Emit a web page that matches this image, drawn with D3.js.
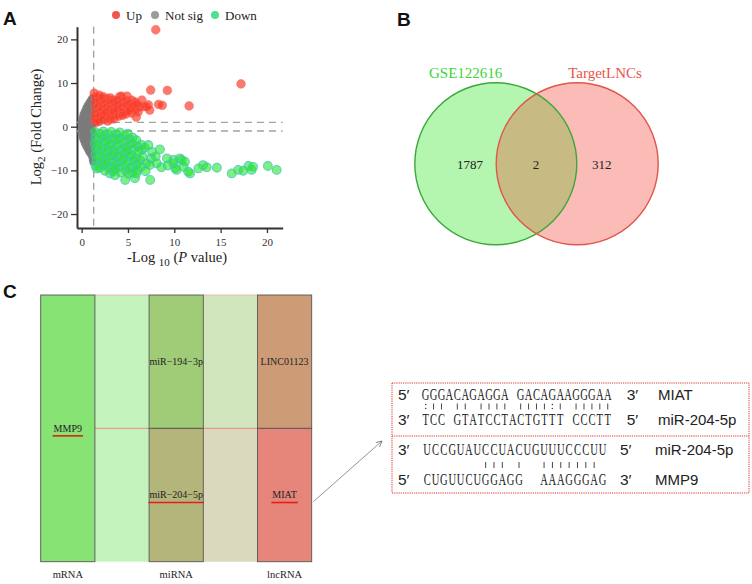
<!DOCTYPE html>
<html>
<head>
<meta charset="utf-8">
<script src="https://cdn.jsdelivr.net/npm/d3@7"></script>
<style>
  body { margin: 0; background: #fff; }
  text { font-family: "Liberation Serif", "DejaVu Serif", serif; fill: #222; }
  .sans { font-family: "Liberation Sans", Arial, sans-serif; }
</style>
</head>
<body>
<svg id="fig"></svg>
<script>
// ---- A: volcano, points are [-log10 p, log2 fold change]
const nsPts = [
  [0.0,0.5],[0.0,-0.5],[0.0,-1.5],[0.0,1.2],[0.1,2.0],[0.1,-2.3],[0.1,0.0],
  [0.2,2.8],[0.2,-3.0],[0.2,1.5],[0.2,-1.0],[0.35,3.5],[0.35,-3.8],[0.35,2.2],[0.35,-2.0],[0.35,0.6],
  [0.5,4.2],[0.5,-4.4],[0.5,3.0],[0.5,-3.0],[0.5,1.0],[0.5,-1.2],
  [0.65,4.8],[0.65,-5.0],[0.65,3.6],[0.65,-3.6],[0.65,2.0],[0.65,-2.2],[0.65,0.3],
  [0.8,5.3],[0.8,-5.6],[0.8,4.2],[0.8,-4.4],[0.8,2.8],[0.8,-1.0],[0.8,1.0],
  [0.95,5.8],[0.95,-6.1],[0.95,4.6],[0.95,-5.0],[0.95,3.2],[0.95,-3.0],[0.95,0.0],
  [1.1,6.3],[1.1,-6.6],[1.1,5.0],[1.1,-5.4],[1.1,3.6],[1.1,1.5],[1.1,-2.0],[1.1,-0.8],
  [1.2,6.6],[1.2,-7.4],[1.2,-6.0],[1.2,4.4],[1.2,-4.0],[1.2,2.4],[1.2,0.6],
  [1.25,-8.0],[1.25,5.6],[1.25,-1.5]
];
const upPts = [
  [8.0,22.2],[17.2,9.8],[7.45,8.4],[9.25,8.3],[11.6,4.75],[7.2,5.0],[8.3,5.1],[8.7,4.9],
  [5.9,2.2],[4.1,6.9],[4.9,7.0],[6.5,6.1],[6.65,4.6],[7.0,4.6],[7.35,3.8],[1.36,7.7],
  [2.0,6.5],[2.7,6.5],[3.4,6.1],[4.3,7.0],[5.4,6.1],[5.75,5.7],[6.3,4.6],[5.4,3.1],
  [4.9,3.8],[4.1,3.1],[3.6,2.7],[2.7,2.3],[2.0,1.9],[1.6,1.5],
  [1.5,6.8],[1.45,5.5],[1.55,4.2],[1.5,3.0],[1.45,2.0],[1.55,1.0],
  [1.9,7.2],[1.95,5.8],[1.85,4.6],[1.9,3.4],[2.0,2.5],[1.9,1.2],
  [2.3,6.9],[2.35,5.2],[2.25,4.0],[2.4,2.9],[2.3,1.6],
  [2.7,5.6],[2.75,4.5],[2.65,3.3],[2.8,1.3],
  [3.1,6.6],[3.15,5.3],[3.05,4.1],[3.2,2.8],[3.1,1.7],
  [3.5,5.7],[3.55,4.5],[3.45,3.5],[3.5,1.8],
  [3.9,6.1],[3.95,5.0],[3.85,4.0],[4.0,2.4],
  [4.4,5.6],[4.35,4.4],[4.45,3.4],[4.4,2.6],
  [4.8,6.0],[4.85,5.0],[4.75,2.9],
  [5.2,5.3],[5.25,4.3],[5.15,3.6],
  [5.6,4.8],[5.8,3.9],[6.0,5.2],[6.1,3.4]
];
const downPts = [
  [1.45,-1.2],[1.5,-2.6],[1.42,-3.9],[1.55,-5.1],[1.48,-6.4],[1.6,-7.7],[1.5,-9.0],[1.65,-9.6],
  [1.9,-1.6],[1.95,-2.9],[1.85,-4.3],[2.0,-5.5],[1.9,-6.9],[2.05,-8.3],[1.95,-9.4],
  [2.35,-1.1],[2.3,-2.4],[2.4,-3.7],[2.25,-4.9],[2.45,-6.1],[2.3,-7.5],[2.4,-8.8],[2.5,-10.1],
  [2.8,-1.7],[2.75,-3.1],[2.9,-4.4],[2.8,-5.7],[2.85,-7.0],[2.7,-8.3],[2.9,-9.4],[3.05,-10.7],
  [3.2,-1.2],[3.3,-2.5],[3.15,-3.9],[3.25,-5.2],[3.35,-6.6],[3.2,-7.8],[3.3,-9.1],[3.4,-10.2],
  [3.7,-1.8],[3.65,-3.0],[3.75,-4.5],[3.6,-5.8],[3.8,-7.0],[3.7,-8.5],[3.6,-9.7],[3.6,-11.1],
  [4.1,-1.3],[4.15,-2.7],[4.05,-4.0],[4.2,-5.3],[4.1,-6.7],[4.25,-8.0],[4.0,-9.3],[4.2,-10.5],
  [4.6,-2.0],[4.55,-3.4],[4.7,-4.8],[4.6,-6.0],[4.5,-7.4],[4.65,-8.7],[4.75,-10.0],[4.7,-12.2],
  [5.0,-1.6],[5.1,-2.9],[5.05,-4.2],[4.95,-5.5],[5.1,-6.8],[5.0,-8.1],[5.15,-9.5],[5.05,-10.8],
  [5.5,-2.5],[5.45,-3.8],[5.55,-5.1],[5.4,-6.5],[5.6,-7.8],[5.5,-9.2],[5.45,-10.5],[5.75,-11.8],
  [5.9,-3.1],[6.0,-4.5],[5.85,-7.2],[5.95,-8.6],[6.05,-9.9],[5.9,-10.7],
  [6.4,-4.1],[6.5,-5.3],[6.3,-7.7],[6.45,-9.2],
  [6.1,-5.7],[6.6,-6.9],[6.8,-4.8],[7.2,-4.2],[7.6,-5.8],[7.5,-7.3],[8.0,-6.8],[7.0,-8.4],
  [7.35,-8.8],[8.1,-8.4],[6.9,-10.2],[7.4,-12.2],[8.45,-5.2],[8.6,-9.3],[9.2,-7.25],[9.3,-8.9],
  [9.9,-7.6],[9.9,-8.4],[10.6,-7.25],[10.8,-7.6],[10.1,-9.5],[10.25,-9.9],[11.0,-9.2],[11.15,-8.0],
  [11.5,-10.3],[11.7,-10.7],[12.6,-9.55],[13.1,-8.8],[13.5,-9.3],[14.6,-9.4],[16.2,-10.7],[16.9,-9.9],
  [17.45,-10.1],[18.0,-9.0],[18.35,-9.9],[18.5,-9.2],[20.1,-9.0],[21.05,-9.9]
];
const legendLabels = ["Up", "Not sig", "Down"];
const xTicks = [0, 5, 10, 15, 20];
const yTicks = [-20, -10, 0, 10, 20];
const pCut = 1.3;
const fcCut = 1;

// ---- B: venn
const vennSets = ["GSE122616", "TargetLNCs"];
const vennCounts = [1787, 2, 312];

// ---- C: ceRNA network
const stages = ["mRNA", "miRNA", "lncRNA"];
const stageNodes = [["MMP9"], ["miR\u2212194\u22123p", "miR\u2212204\u22125p"], ["LINC01123", "MIAT"]];
const hubNodes = ["MMP9", "miR\u2212204\u22125p", "MIAT"];
const linkColors = [["#c3f2bd", "#c3f2bd"], ["#d1e6bd", "#dad9bd"]];

// binding sites
const bindBlocks = [
  { top: ["5\u2032", "GGGACAGAGGA GACAGAAGGGAA", "3\u2032", "MIAT"],
    marks: ":|| || |||| ||||:| |||||",
    bot: ["3\u2032", "TCC GTATCCTACTGTTT CCCTT", "5\u2032", "miR-204-5p"] },
  { top: ["3\u2032", "UCCGUAUCCUACUGUUUCCCUU", "5\u2032", "miR-204-5p"],
    marks: "       ||| |  ||||||| ",
    bot: ["5\u2032", "CUGUUCUGGAGG  AAAGGGAG", "3\u2032", "MMP9"] }
];

const width = 752, height = 584;
const svg = d3.select("#fig").attr("width", width).attr("height", height);

// panel letters
svg.append("text").attr("class", "sans").attr("x", 3).attr("y", 25).attr("font-size", 19).attr("font-weight", "bold").style("fill", "#111").text("A");
svg.append("text").attr("class", "sans").attr("x", 397).attr("y", 26).attr("font-size", 19).attr("font-weight", "bold").style("fill", "#111").text("B");
svg.append("text").attr("class", "sans").attr("x", 3).attr("y", 298).attr("font-size", 19).attr("font-weight", "bold").style("fill", "#111").text("C");

// ================= A
const x = d3.scaleLinear([-0.5, 21.7], [77, 282.7]);
const y = d3.scaleLinear([-23.2, 22.9], [228, 26.7]);
const gA = svg.append("g");

gA.append("g")
  .attr("transform", "translate(0,228)")
  .call(d3.axisBottom(x).tickValues(xTicks).tickSize(5).tickSizeOuter(0))
  .call(g => g.select(".domain").attr("stroke", "#333").attr("stroke-width", 2))
  .call(g => g.selectAll(".tick line").attr("stroke", "#333").attr("stroke-width", 1.3))
  .call(g => g.selectAll(".tick text").attr("font-size", 11).attr("font-family", "Liberation Serif").style("fill", "#333").attr("dy", "0.9em"));

gA.append("g")
  .attr("transform", "translate(77,0)")
  .call(d3.axisLeft(y).tickValues(yTicks).tickSize(6).tickSizeOuter(0))
  .call(g => g.select(".domain").attr("stroke", "#333").attr("stroke-width", 2))
  .call(g => g.selectAll(".tick line").attr("stroke", "#333").attr("stroke-width", 1.3))
  .call(g => g.selectAll(".tick text").attr("font-size", 11).attr("font-family", "Liberation Serif").style("fill", "#333"));

// threshold lines
const dash = g => g.attr("stroke", "#a3a3a3").attr("stroke-width", 1.4).attr("stroke-dasharray", "7,5").attr("fill", "none");
gA.append("line").attr("x1", x(pCut)).attr("x2", x(pCut)).attr("y1", y.range()[1]).attr("y2", y.range()[0]).call(dash);
[fcCut, -fcCut].forEach(v =>
  gA.append("line").attr("x1", x(-0.5)).attr("x2", x(21.7)).attr("y1", y(v)).attr("y2", y(v)).call(dash));

gA.append("g").selectAll("circle").data(nsPts).join("circle")
  .attr("cx", d => x(d[0])).attr("cy", d => y(d[1])).attr("r", 4)
  .attr("fill", "#7b7b7b").attr("fill-opacity", 0.9);
gA.append("g").selectAll("circle").data(upPts).join("circle")
  .attr("cx", d => x(d[0])).attr("cy", d => y(d[1])).attr("r", 4.4)
  .attr("fill", "#fa3a28").attr("fill-opacity", 0.68)
  .attr("stroke", "#f26a5c").attr("stroke-opacity", 0.6).attr("stroke-width", 0.8);
gA.append("g").selectAll("circle").data(downPts).join("circle")
  .attr("cx", d => x(d[0])).attr("cy", d => y(d[1])).attr("r", 4.4)
  .attr("fill", "#28e628").attr("fill-opacity", 0.6)
  .attr("stroke", "#3fc4c0").attr("stroke-opacity", 0.75).attr("stroke-width", 1.1);

// legend
const legColors = ["#f2564a", "#9b9b9b", "#4ee08f"];
const legX = [116, 155, 215];
legendLabels.forEach((l, i) => {
  gA.append("circle").attr("cx", legX[i]).attr("cy", 15).attr("r", 4).attr("fill", legColors[i]);
  gA.append("text").attr("x", legX[i] + 10).attr("y", 19.5).attr("font-size", 13).text(l);
});

// axis titles
const xt = gA.append("text").attr("x", 177).attr("y", 262).attr("text-anchor", "middle").attr("font-size", 14.5);
xt.append("tspan").text("-Log ");
xt.append("tspan").attr("font-size", 11).attr("dy", 4).text("10");
xt.append("tspan").attr("dy", -4).text(" (");
xt.append("tspan").attr("font-style", "italic").text("P");
xt.append("tspan").text(" value)");

const yt = gA.append("text").attr("transform", "translate(41,127) rotate(-90)").attr("text-anchor", "middle").attr("font-size", 14.5);
yt.append("tspan").text("Log");
yt.append("tspan").attr("font-size", 11).attr("dy", 4).text("2");
yt.append("tspan").attr("dy", -4).text(" (Fold Change)");

// ================= B
const gB = svg.append("g");
const vc = [{ cx: 495.8, stroke: "#3aa83a", fill: "#b4f5b0", lab: "#3ad63a" },
            { cx: 577.2, stroke: "#e0554c", fill: "#fbbcb8", lab: "#e8544a" }];
const vy = 163.8, vr = 81;
gB.append("defs").append("clipPath").attr("id", "clipR")
  .append("circle").attr("cx", vc[1].cx).attr("cy", vy).attr("r", vr);
vc.forEach(c => gB.append("circle").attr("cx", c.cx).attr("cy", vy).attr("r", vr).attr("fill", c.fill));
gB.append("circle").attr("cx", vc[0].cx).attr("cy", vy).attr("r", vr).attr("fill", "#c7ba83").attr("clip-path", "url(#clipR)");
gB.append("circle").attr("cx", vc[0].cx).attr("cy", vy).attr("r", vr).attr("fill", "none").attr("stroke", vc[0].stroke).attr("stroke-width", 1.4);
gB.append("circle").attr("cx", vc[1].cx).attr("cy", vy).attr("r", vr).attr("fill", "none").attr("stroke", vc[1].stroke).attr("stroke-width", 1.4);
gB.append("text").attr("x", 465.7).attr("y", 78).attr("text-anchor", "middle").attr("font-size", 15).style("fill", vc[0].lab).text(vennSets[0]);
gB.append("text").attr("x", 605).attr("y", 78).attr("text-anchor", "middle").attr("font-size", 15).style("fill", vc[1].lab).text(vennSets[1]);
[470, 536, 601.7].forEach((px, i) =>
  gB.append("text").attr("x", px).attr("y", 168.5).attr("text-anchor", "middle").attr("font-size", 13).text(vennCounts[i]));

// ================= C
const gC = svg.append("g");
const slot = d3.scaleBand().domain(d3.range(5)).range([40.7, 311.7]);
const row = d3.scaleBand().domain([0, 1]).range([295, 561.7]);
const nodeFill = {
  "MMP9": "#87e373", "miR\u2212194\u22123p": "#a0cc78", "miR\u2212204\u22125p": "#b4b57b",
  "LINC01123": "#cd9c77", "MIAT": "#e6867b"
};

// links
linkColors.forEach((cols, li) => {
  cols.forEach((c, r) => {
    gC.append("rect").attr("x", slot(li * 2 + 1)).attr("y", row(r))
      .attr("width", slot.bandwidth()).attr("height", row.bandwidth()).attr("fill", c);
  });
  gC.append("line").attr("x1", slot(li * 2 + 1)).attr("x2", slot(li * 2 + 1) + slot.bandwidth())
    .attr("y1", row(1)).attr("y2", row(1)).attr("stroke", "#ee8a80").attr("stroke-width", 1);
  gC.append("line").attr("x1", slot(li * 2 + 1)).attr("x2", slot(li * 2 + 1) + slot.bandwidth())
    .attr("y1", row(0)).attr("y2", row(0)).attr("stroke", "#f0b8a8").attr("stroke-width", 1);
});

// nodes
stageNodes.forEach((nodes, si) => {
  const h = (row.range()[1] - row.range()[0]) / nodes.length;
  nodes.forEach((n, ni) => {
    const y0 = row.range()[0] + ni * h;
    const cx = slot(si * 2) + slot.bandwidth() / 2;
    gC.append("rect").attr("x", slot(si * 2)).attr("y", y0)
      .attr("width", slot.bandwidth()).attr("height", h)
      .attr("fill", nodeFill[n]).attr("stroke", "#555").attr("stroke-width", 0.9);
    const t = gC.append("text").attr("x", cx).attr("y", y0 + h / 2 + 3.3)
      .attr("text-anchor", "middle").attr("font-size", 10).text(n);
    if (hubNodes.includes(n)) {
      const w = t.node().getComputedTextLength();
      gC.append("line").attr("x1", cx - w / 2 - 1).attr("x2", cx + w / 2 + 1)
        .attr("y1", y0 + h / 2 + 7.5).attr("y2", y0 + h / 2 + 7.5)
        .attr("stroke", "#e81c1c").attr("stroke-width", 1.6);
    }
  });
  gC.append("text").attr("x", slot(si * 2) + slot.bandwidth() / 2).attr("y", 578)
    .attr("text-anchor", "middle").attr("font-size", 10.5).text(stages[si]);
});

// arrow
svg.append("defs").append("marker").attr("id", "arr")
  .attr("viewBox", "0 0 10 10").attr("refX", 9).attr("refY", 5)
  .attr("markerWidth", 9).attr("markerHeight", 9).attr("orient", "auto")
  .append("path").attr("d", "M1,1 L9,5 L1,9").attr("fill", "none").attr("stroke", "#666").attr("stroke-width", 1);
svg.append("line").attr("x1", 313.5).attr("y1", 501.5).attr("x2", 382).attr("y2", 441)
  .attr("stroke", "#777").attr("stroke-width", 0.8).attr("marker-end", "url(#arr)");

// binding box
const gS = svg.append("g");
const dot = g => g.attr("fill", "none").attr("stroke", "#e23030").attr("stroke-width", 1).attr("stroke-dasharray", "1.2,1");
gS.append("rect").attr("x", 392).attr("y", 383).attr("width", 357).attr("height", 110).call(dot);
gS.append("line").attr("x1", 392).attr("x2", 749).attr("y1", 436).attr("y2", 436).call(dot);

const blockGeo = [
  { y: [400, 425], markY: 406.5, seqL: 421.7, seqR: 611.7, endX: 626.7, nameX: 658 },
  { y: [455, 485], markY: 465, seqL: 423, seqR: 606.7, endX: 620, nameX: 655 }
];
bindBlocks.forEach((b, bi) => {
  const geo = blockGeo[bi];
  const n = b.top[1].length;
  const cx = d3.scaleLinear([0, n], [geo.seqL, geo.seqR]);
  [b.top, b.bot].forEach((r, ri) => {
    const yy = geo.y[ri];
    gS.append("text").attr("class", "sans").attr("x", 398).attr("y", yy).attr("font-size", 15.5).text(r[0]);
    gS.append("text").attr("class", "sans").attr("x", geo.endX).attr("y", yy).attr("font-size", 15.5).text(r[2]);
    gS.append("text").attr("class", "sans").attr("x", geo.nameX).attr("y", yy).attr("font-size", 15).text(r[3]);
    gS.append("g").selectAll("text").data(r[1].split("")).join("text")
      .attr("transform", (d, i) => `translate(${cx(i + 0.5)},${yy}) scale(0.66,1)`)
      .attr("text-anchor", "middle").attr("font-size", 16).text(d => d);
  });
  b.marks.split("").forEach((m, i) => {
    const mx = cx(i + 0.5);
    if (m === "|") {
      gS.append("line").attr("x1", mx).attr("x2", mx).attr("y1", geo.markY - 3).attr("y2", geo.markY + 3)
        .attr("stroke", "#333").attr("stroke-width", 0.9);
    } else if (m === ":") {
      [-2, 2].forEach(dy => gS.append("circle").attr("cx", mx).attr("cy", geo.markY + dy).attr("r", 0.7).attr("fill", "#333"));
    }
  });
});
</script>
</body>
</html>
